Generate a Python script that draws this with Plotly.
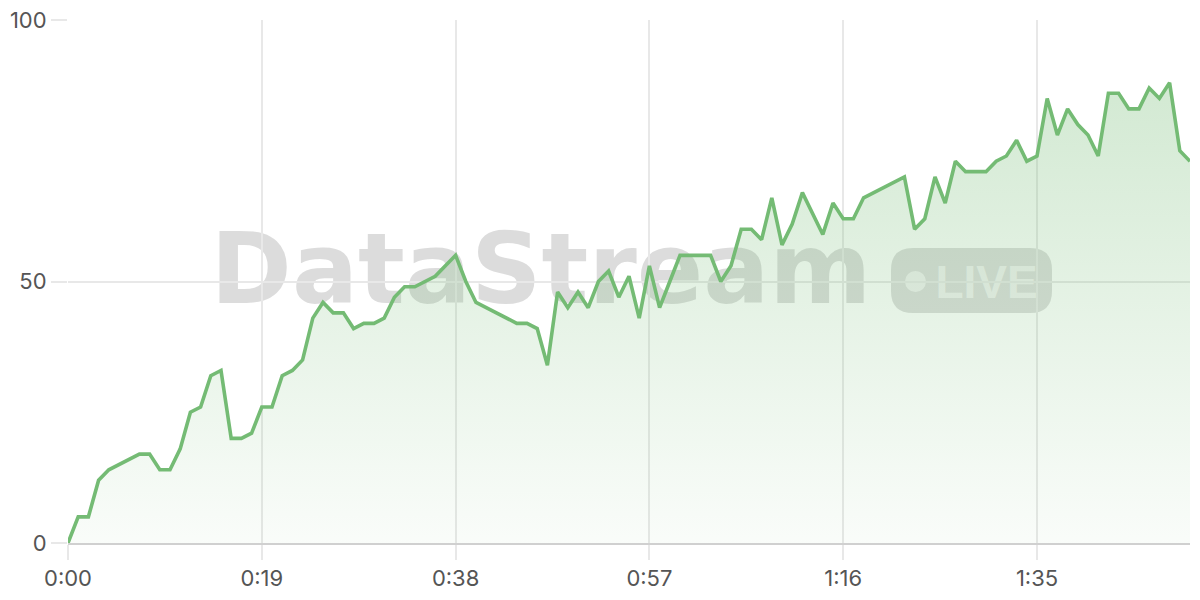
import plotly.graph_objects as go

# ---- data ----
seconds = list(range(0, 111))
values = [0, 5, 5, 12, 14, 15, 16, 17, 17, 14, 14, 18, 25, 26, 32, 33, 20, 20, 21, 26,
          26, 32, 33, 35, 43, 46, 44, 44, 41, 42, 42, 43, 47, 49, 49, 50, 51, 53, 55, 50,
          46, 45, 44, 43, 42, 42, 41, 34, 48, 45, 48, 45, 50, 52, 47, 51, 43, 53, 45, 50,
          55, 55, 55, 55, 50, 53, 60, 60, 58, 66, 57, 61, 67, 63, 59, 65, 62, 62, 66, 67,
          68, 69, 70, 60, 62, 70, 65, 73, 71, 71, 71, 73, 74, 77, 73, 74, 85, 78, 83, 80,
          78, 74, 86, 86, 83, 83, 87, 85, 88, 75, 73]
x_tickvals = [0, 19, 38, 57, 76, 95]
x_ticktext = ["0:00", "0:19", "0:38", "0:57", "1:16", "1:35"]
y_tickvals = [0, 50, 100]

W, H = 1200, 600
L, R, T, B = 60, 18, 12, 65
PW, PH = W - L - R, H - T - B
OFF = 8  # page body offset

def px(x):
    return (x - OFF - L) / PW

def py(y):
    return (OFF + H - B - y) / PH

fig = go.Figure()
fig.add_trace(go.Scatter(
    x=seconds, y=values, mode="lines",
    line=dict(color="#74bb74", width=3.6),
    fill="tozeroy",
    fillgradient=dict(type="vertical",
                      colorscale=[[0, "rgba(116,187,116,0.04)"], [1, "rgba(116,187,116,0.32)"]]),
    hoverinfo="skip",
))

shapes = []
# watermark text
shapes.append(dict(type="rect", xref="paper", yref="paper", layer="below",
                   x0=px(191), x1=px(891), y0=py(314), y1=py(209),
                   line=dict(width=0), fillcolor="rgba(0,0,0,0)",
                   label=dict(text="<b>DataStream</b>", textposition="middle center",
                              font=dict(family="DejaVu Sans", size=98, color="rgba(120,120,120,0.26)"))))
# LIVE pill (rounded)
x0, x1, y0, y1, r = 891, 1052, 248, 313, 22
rx, ry = r / PW, r / PH
X0, X1, Y0, Y1 = px(x0), px(x1), py(y1), py(y0)
path = (f"M {X0+rx},{Y0} L {X1-rx},{Y0} Q {X1},{Y0} {X1},{Y0+ry} "
        f"L {X1},{Y1-ry} Q {X1},{Y1} {X1-rx},{Y1} L {X0+rx},{Y1} "
        f"Q {X0},{Y1} {X0},{Y1-ry} L {X0},{Y0+ry} Q {X0},{Y0} {X0+rx},{Y0} Z")
shapes.append(dict(type="path", xref="paper", yref="paper", layer="below", path=path,
                   line=dict(width=0), fillcolor="rgba(120,120,120,0.25)"))
# dot
shapes.append(dict(type="circle", xref="paper", yref="paper", layer="below",
                   x0=px(905), x1=px(926), y0=py(292), y1=py(271),
                   line=dict(width=0), fillcolor="rgba(255,255,255,0.6)"))
# LIVE text
shapes.append(dict(type="rect", xref="paper", yref="paper", layer="below",
                   x0=px(936), x1=px(1037), y0=py(303), y1=py(253),
                   line=dict(width=0), fillcolor="rgba(0,0,0,0)",
                   label=dict(text="LIVE", textposition="middle center",
                              font=dict(family="Liberation Sans", size=46, weight=600,
                                        color="rgba(255,255,255,0.62)"))))

fig.update_layout(
    width=W, height=H,
    margin=dict(l=L, r=R, t=T, b=B, autoexpand=False),
    paper_bgcolor="white", plot_bgcolor="white",
    showlegend=False,
    shapes=shapes,
    font=dict(family="Inter", size=22, color="#555555"),
)
fig.update_xaxes(range=[0, 110], tickvals=x_tickvals, ticktext=x_ticktext,
                 automargin=False, ticklabeloverflow="allow",
                 showgrid=True, gridcolor="#e8e8e8", gridwidth=1.5,
                 ticks="outside", ticklen=15, tickcolor="#e8e8e8", tickwidth=1.5,
                 showline=True, linecolor="#d0d0d0", linewidth=1.5,
                 zeroline=False, tickfont=dict(size=22, color="#555555"))
fig.update_yaxes(range=[0, 100], tickvals=y_tickvals,
                 automargin=False, ticklabeloverflow="allow",
                 showgrid=True, gridcolor="#e8e8e8", gridwidth=1.5,
                 ticks="outside", ticklen=16, tickcolor="#e8e8e8", tickwidth=1.5,
                 showline=False, zeroline=False,
                 tickfont=dict(size=22, color="#555555"))

fig.write_html("out.html")
